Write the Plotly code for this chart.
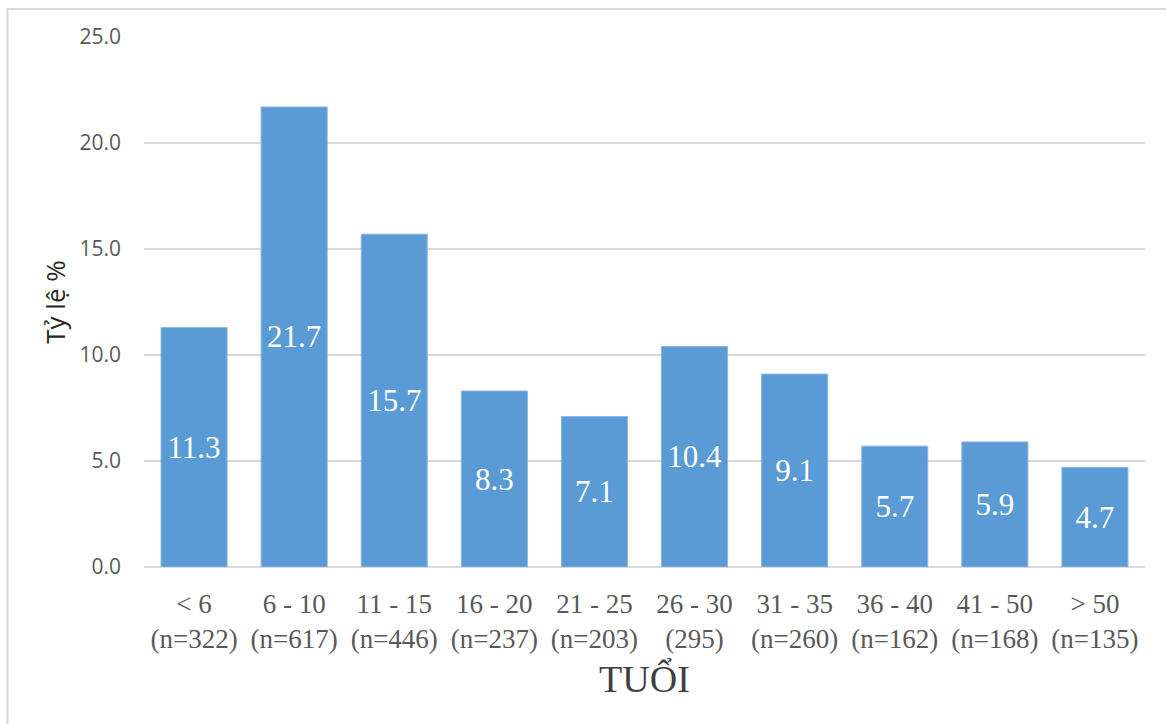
import plotly.graph_objects as go

# Age groups (with sample sizes) and the percentage in each group
age_groups = [
    "&lt; 6<br>(n=322)",
    "6 - 10<br>(n=617)",
    "11 - 15<br>(n=446)",
    "16 - 20<br>(n=237)",
    "21 - 25<br>(n=203)",
    "26 - 30<br>(295)",
    "31 - 35<br>(n=260)",
    "36 - 40<br>(n=162)",
    "41 - 50<br>(n=168)",
    "&gt; 50<br>(n=135)",
]
rates = [11.3, 21.7, 15.7, 8.3, 7.1, 10.4, 9.1, 5.7, 5.9, 4.7]

y_ticks = [0, 5, 10, 15, 20, 25]

BAR = "#5b9bd5"
GRID = "#d9d9d9"
TEXT = "#595959"
SERIF = "Liberation Serif"
SANS = "Open Sans"

fig = go.Figure(
    go.Bar(
        x=age_groups,
        y=rates,
        marker=dict(color=BAR, line=dict(color="#8ab6e0", width=1)),
        text=[f"{v:.1f}" for v in rates],
        textposition="inside",
        insidetextanchor="middle",
        textangle=0,
        constraintext="none",
        textfont=dict(family=SERIF, size=31, color="white"),
        hoverinfo="skip",
    )
)

fig.update_layout(
    width=1166,
    height=724,
    margin=dict(l=144, r=21, t=37, b=157),
    paper_bgcolor="white",
    plot_bgcolor="white",
    bargap=0.34,
    showlegend=False,
    xaxis=dict(
        type="category",
        showgrid=False,
        showline=False,
        ticks="",
        ticklabelstandoff=18,
        tickfont=dict(family=SERIF, size=27, color=TEXT),
        title=dict(text="TUỔI", font=dict(family=SERIF, size=38, color="#404040"), standoff=12),
    ),
    yaxis=dict(
        range=[0, 25],
        tickvals=y_ticks,
        tickformat=".1f",
        showgrid=True,
        gridcolor=GRID,
        gridwidth=1.5,
        zeroline=True,
        zerolinecolor=GRID,
        zerolinewidth=2,
        showline=False,
        ticks="",
        ticklabelstandoff=22,
        tickfont=dict(family=SANS, size=21, color=TEXT),
        title=dict(text="Tỷ lệ %", font=dict(family=SANS, size=26, color="#262626"), standoff=6),
    ),
    shapes=[
        # chart frame
        dict(
            type="rect", xref="paper", yref="paper",
            x0=-0.1364, x1=1.2, y0=-0.5, y1=1.0528,
            line=dict(color=GRID, width=2), fillcolor="rgba(0,0,0,0)", layer="below",
        )
    ],
)

fig.write_html("out.html")
